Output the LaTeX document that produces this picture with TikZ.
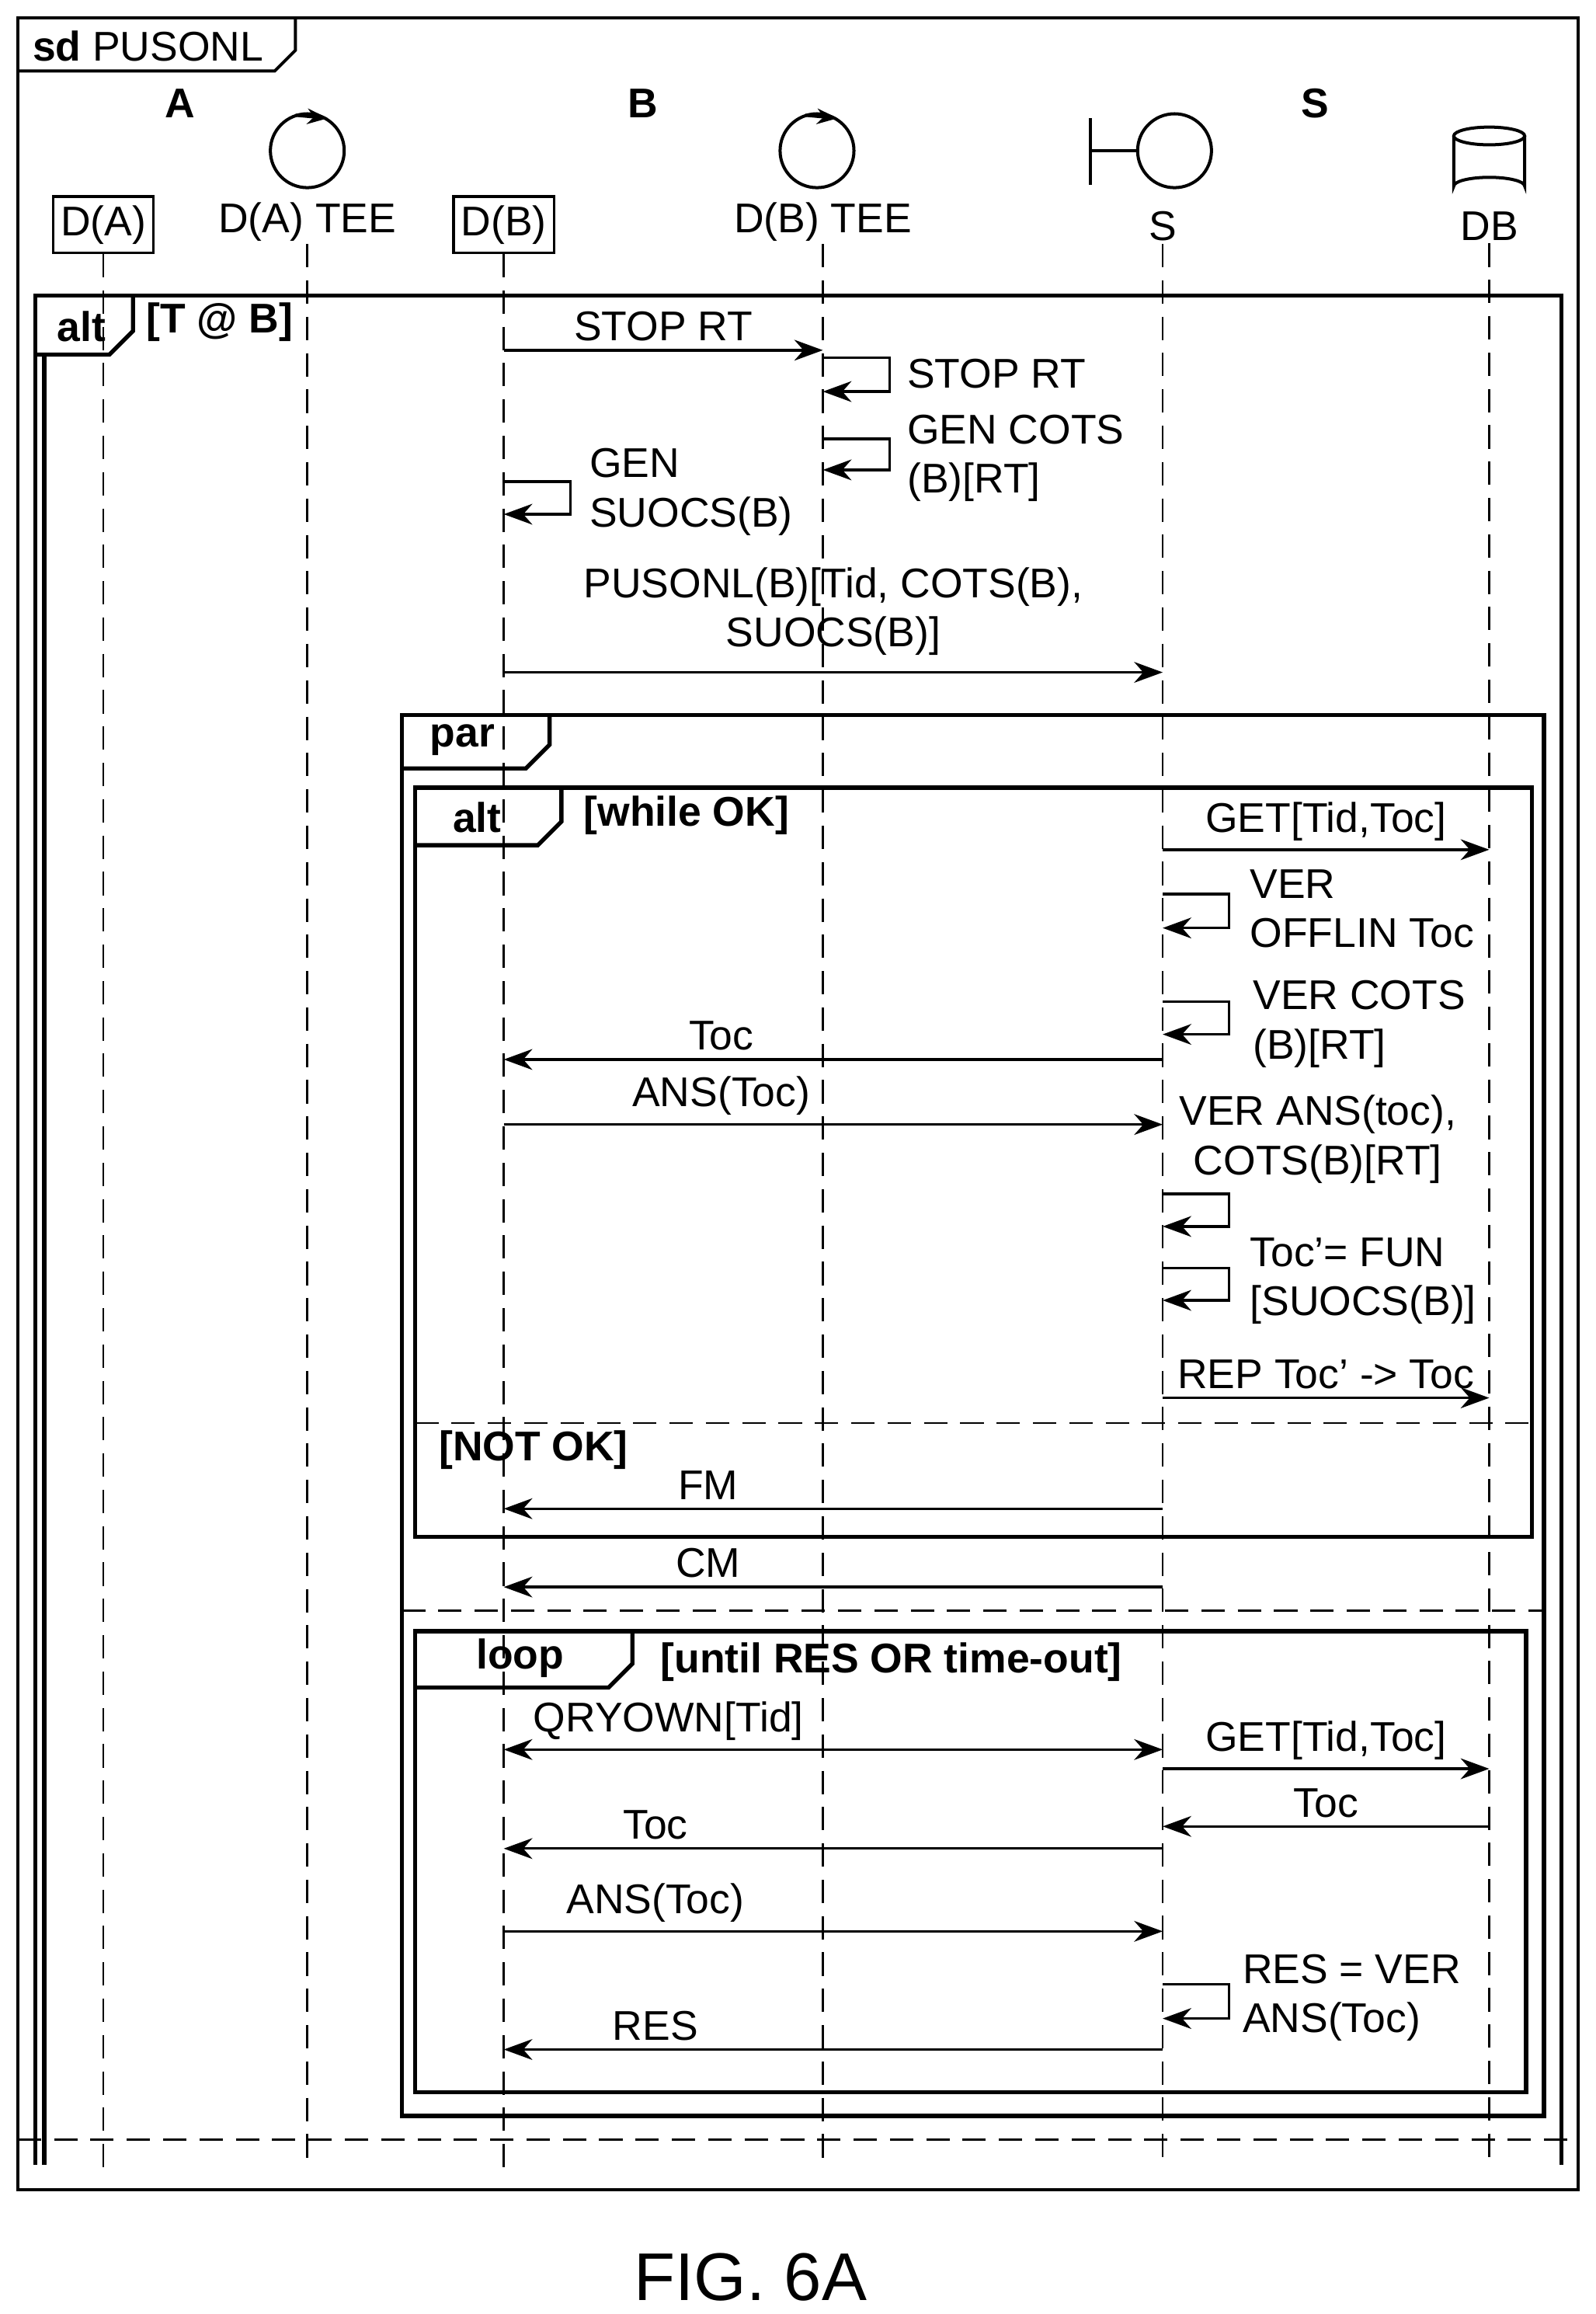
\documentclass[tikz,border=0pt]{standalone}
\usepackage{fontspec}
\setmainfont{Liberation Sans}
\usetikzlibrary{arrows.meta, calc, positioning}

\tikzset{
  life/.style = {dashed, dash pattern=on 9pt off 5pt, line width=0.8pt},
  frm/.style = {line width=1.6pt},
  tip/.tip = {Stealth[length=11pt, width=8pt, inset=3.5pt]},
  msg/.style = {line width=1pt, -tip},
  lbl/.style = {font=\fontsize{16}{19}\selectfont, inner sep=1pt, align=center},
  lbll/.style = {lbl, anchor=west, align=left},
  tab/.style = {font=\bfseries\fontsize{16}{19}\selectfont, inner sep=1pt},
  box/.style = {lbl, draw, line width=1pt, minimum width=1.36cm, minimum height=0.76cm, inner sep=2pt},
}

\newcommand{\sdtab}[3][frm]{% #2 = (x,y) Ecke links oben, #3 = (x,y) Reiterende
  \draw[#1] let \p1 = #2, \p2 = #3 in
    (\x1,\y2) -- ($(\x2,\y2)+(-16,0)$) -- ($(\x2,\y2)+(0,-16)$) -- (\x2,\y1);
}
% Nachricht an sich selbst
\newcommand{\selfmsg}[3]{% #1 Lebenslinie, #2 y, #3 Hoehe
  \draw[msg] (#1 |- 0,#2) -- ++(45,0) -- ++(0,#3) -- ++(-45,0);
}

\begin{document}
\begin{tikzpicture}[x=0.02cm, y=-0.02cm]

%%% BoundingBox
\useasboundingbox (0,0) rectangle (1080,1566);

%%% Aeusserer Rahmen
\draw[line width=1.2pt] (12,12) rectangle (1068,1482);
\draw[line width=1.2pt] (12,48) -- (186,48) -- (200,34) -- (200,12);
\node[tab, anchor=west] (sd) at (20,31) {sd \mdseries PUSONL};

%%% Kopf
\node[tab] (gA) at (122,70) {A};
\node[tab] (gB) at (435,70) {B};
\node[tab] (gS) at (890,70) {S};

\node[box] (da) at (70,152) {D(A)};
\node[box] (db) at (341,152) {D(B)};
\node[lbl] (datee) at (208,150) {D(A) TEE};
\node[lbl] (dbtee) at (557,150) {D(B) TEE};
\node[lbl] (s) at (787,153) {S};
\node[lbl] (dbase) at (1008,153) {DB};

%%% Symbole
\draw[line width=1.2pt] (208,102) circle (25);
\draw[line width=1.2pt, -{Stealth[length=8pt]}] (200,78) -- (222,80);
\draw[line width=1.2pt] (553,102) circle (25);
\draw[line width=1.2pt, -{Stealth[length=8pt]}] (545,78) -- (567,80);
\draw[line width=1.2pt] (738,80) -- (738,125) (738,102) -- (770,102);
\draw[line width=1.2pt] (795,102) circle (25);
\draw[line width=1.2pt] (984,92) -- (984,126) arc[start angle=180, end angle=360, x radius=24, y radius=6] -- (1032,92);
\draw[line width=1.2pt] (1008,92) ellipse (24 and 6);

%%% Lebenslinien
\foreach \n/\x in {la/70, late/208, lb/341, lbte/557, ls/787, ldb/1008}
  \coordinate (\n) at (\x,1468);
\draw[life] (da) -- (la);
\draw[life] (datee) -- (late);
\draw[life] (db) -- (lb);
\draw[life] (dbtee) -- (lbte);
\draw[life] (s) -- (ls);
\draw[life] (dbase) -- (ldb);

%%% alt [T @ B]
\draw[frm] (24,1465) -- (24,200) -- (1057,200) -- (1057,1465);
\draw[frm] (30,1465) -- (30,240);
\sdtab{(24,200)}{(90,240)}
\node[tab] (alt1) at (55,221) {alt};
\node[tab, anchor=west] (g1) at (97,218) {[T @ B]};
\draw[life] (12,1448) -- (1068,1448);

\draw[msg] (lb |- 0,237) -- node[lbl, above=2pt] {STOP RT} (lbte |- 0,237);
\selfmsg{lbte}{242}{23}
\node[lbll] (m2) at (612,253) {STOP RT};
\selfmsg{lbte}{297}{21}
\node[lbll] (m3) at (612,310) {GEN COTS\\(B)[RT]};
\selfmsg{lb}{326}{22}
\node[lbll] (m4) at (397,333) {GEN\\SUOCS(B)};
\draw[msg] (lb |- 0,455) -- node[lbl, above=5pt] {PUSONL(B)[Tid, COTS(B),\\SUOCS(B)]} (ls |- 0,455);

%%% par
\draw[frm] (272,484) rectangle (1045,1432);
\sdtab{(272,484)}{(372,520)}
\node[tab] (par) at (313,501) {par};
\draw[life] (272,1090) -- (1045,1090);

%%% alt [while OK]
\draw[frm] (281,533) rectangle (1037,1040);
\sdtab{(281,533)}{(380,572)}
\node[tab] (alt2) at (323,553) {alt};
\node[tab, anchor=west] (g2) at (393,552) {[while OK]};

\draw[msg] (ls |- 0,575) -- node[lbl, above=2pt] {GET[Tid,Toc]} (ldb |- 0,575);
\selfmsg{ls}{605}{23}
\node[lbll] (m5) at (844,615) {VER\\OFFLIN Toc};
\selfmsg{ls}{678}{22}
\node[lbll] (m6) at (846,693) {VER COTS\\(B)[RT]};
\draw[msg] (ls |- 0,717) -- node[lbl, above=2pt, pos=0.67] {Toc} (lb |- 0,717);
\draw[msg] (lb |- 0,761) -- node[lbl, above=2pt, pos=0.33] {ANS(Toc)} (ls |- 0,761);
\node[lbl] (m7) at (892,771) {VER ANS(toc),\\COTS(B)[RT]};
\selfmsg{ls}{808}{22}
\selfmsg{ls}{858}{22}
\node[lbll] (m8) at (844,867) {Toc'= FUN\\{}[SUOCS(B)]};
\draw[msg] (ls |- 0,946) -- node[lbl, above=2pt] {REP Toc' -> Toc} (ldb |- 0,946);

\draw[life] (281,963) -- (1037,963);
\node[tab, anchor=west] (g3) at (295,981) {[NOT OK]};
\draw[msg] (ls |- 0,1021) -- node[lbl, above=2pt, pos=0.69] {FM} (lb |- 0,1021);
\draw[msg] (ls |- 0,1074) -- node[lbl, above=2pt, pos=0.69] {CM} (lb |- 0,1074);

%%% loop
\draw[frm] (281,1104) rectangle (1033,1416);
\sdtab{(281,1104)}{(428,1142)}
\node[tab] (loop) at (352,1122) {loop};
\node[tab, anchor=west] (g4) at (445,1125) {[until RES OR time-out]};

\draw[msg, tip-tip] (lb |- 0,1184) -- node[lbl, above=2pt, pos=0.25] {QRYOWN[Tid]} (ls |- 0,1184);
\draw[msg] (ls |- 0,1197) -- node[lbl, above=2pt] {GET[Tid,Toc]} (ldb |- 0,1197);
\draw[msg] (ldb |- 0,1236) -- node[lbl, above=2pt] {Toc} (ls |- 0,1236);
\draw[msg] (ls |- 0,1251) -- node[lbl, above=2pt, pos=0.77] {Toc} (lb |- 0,1251);
\draw[msg] (lb |- 0,1307) -- node[lbl, above=2pt, pos=0.23] {ANS(Toc)} (ls |- 0,1307);
\selfmsg{ls}{1343}{23}
\node[lbll] (m9) at (839,1352) {RES = VER\\ANS(Toc)};
\draw[msg] (ls |- 0,1387) -- node[lbl, above=2pt, pos=0.77] {RES} (lb |- 0,1387);

%%% Bildunterschrift
\node[font=\fontsize{26}{30}\selectfont] (fig) at (508,1541) {FIG. 6A};
\end{tikzpicture}
\end{document}
